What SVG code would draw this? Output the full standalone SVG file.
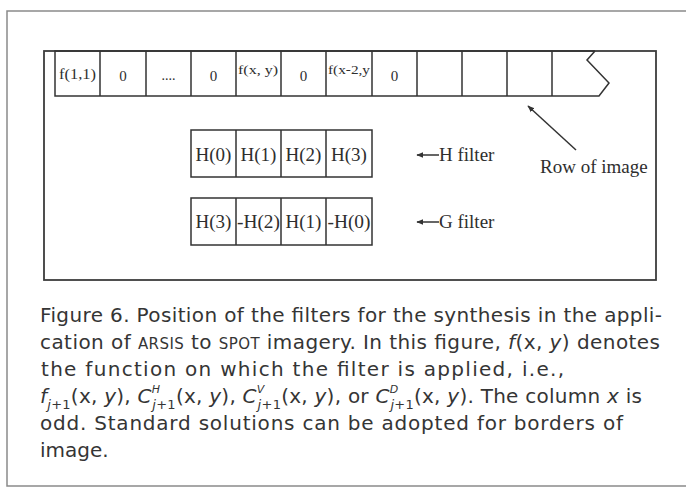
<svg xmlns="http://www.w3.org/2000/svg" width="686" height="488" viewBox="0 0 686 488">
  <style>
    .frame { fill: none; stroke: #8a8a8a; stroke-width: 1.5; }
    .box { fill: none; stroke: #3c3c3c; stroke-width: 1.8; }
    .cell { fill: none; stroke: #333; stroke-width: 1.5; }
    .serif { font-family: "Liberation Serif", "Times New Roman", serif; fill: #2e2e2e; }
    .zero { font-size: 15px; }
    .big { font-size: 19px; }
    .cap { font-family: "DejaVu Sans", "Liberation Sans", sans-serif; font-size: 20px; fill: #353535; }
    .sc { font-size: 15px; }
    .it { font-style: italic; }
    .conn { fill: none; stroke: #333; stroke-width: 1.5; }
  </style>
  <defs>
    <marker id="head" viewBox="0 0 10 10" refX="9" refY="5" markerWidth="7" markerHeight="7" orient="auto-start-reverse" markerUnits="userSpaceOnUse">
      <path d="M0,1 L10,5 L0,9 Z" fill="#333"/>
    </marker>
  </defs>
  <rect width="686" height="488" fill="#fff"/>

  <!-- page frame around figure and caption -->
  <path class="frame" d="M686,11 H7 V486 H686"/>

  <!-- figure border -->
  <rect id="figure-box" class="box" x="44" y="51" width="612" height="229"/>

  <!-- image row, open at its right end -->
  <g id="image-row">
    <path class="cell" d="M595,51 H55 V96 H599 L609,83 L587,60 L595,51"/>
    <path class="cell" d="M100,51 V96 M146,51 V96 M191,51 V96 M236,51 V96 M281,51 V96 M326,51 V96 M372,51 V96 M417,51 V96 M462,51 V96 M507,51 V96 M552,51 V96"/>
    <text class="serif" font-size="15" x="59" y="79" textLength="37" lengthAdjust="spacingAndGlyphs">f(1,1)</text>
    <text class="serif zero" x="123" y="81" text-anchor="middle">0</text>
    <text class="serif" font-size="14" x="168.5" y="80" text-anchor="middle" fill="#9a9a9a">....</text>
    <text class="serif zero" x="213.5" y="81" text-anchor="middle">0</text>
    <text class="serif" font-size="13" x="238" y="74" textLength="40" lengthAdjust="spacingAndGlyphs">f(x, y)</text>
    <text class="serif zero" x="303.5" y="81" text-anchor="middle">0</text>
    <text class="serif" font-size="13" x="328" y="74" textLength="42" lengthAdjust="spacingAndGlyphs">f(x-2,y</text>
    <text class="serif zero" x="394.5" y="81" text-anchor="middle">0</text>
  </g>

  <!-- synthesis filter H -->
  <g id="h-filter">
    <rect class="cell" x="191" y="130" width="181" height="47"/>
    <path class="cell" d="M236,130 V177 M281,130 V177 M326,130 V177"/>
    <text class="serif big" x="213.5" y="161" text-anchor="middle">H(0)</text>
    <text class="serif big" x="258.5" y="161" text-anchor="middle">H(1)</text>
    <text class="serif big" x="303.5" y="161" text-anchor="middle">H(2)</text>
    <text class="serif big" x="349" y="161" text-anchor="middle">H(3)</text>
  </g>

  <!-- synthesis filter G -->
  <g id="g-filter">
    <rect class="cell" x="191" y="198" width="181" height="47"/>
    <path class="cell" d="M236,198 V245 M281,198 V245 M326,198 V245"/>
    <text class="serif big" x="213.5" y="228" text-anchor="middle">H(3)</text>
    <text class="serif big" x="258.5" y="228" text-anchor="middle" textLength="43" lengthAdjust="spacingAndGlyphs">-H(2)</text>
    <text class="serif big" x="303.5" y="228" text-anchor="middle">H(1)</text>
    <text class="serif big" x="349" y="228" text-anchor="middle" textLength="43" lengthAdjust="spacingAndGlyphs">-H(0)</text>
  </g>

  <!-- labels -->
  <g id="h-label"><text class="serif big" x="439" y="161">H filter</text></g>
  <g id="g-label"><text class="serif big" x="439" y="228">G filter</text></g>
  <g id="row-label"><text class="serif big" x="540" y="173">Row of image</text></g>

  <!-- connectors -->
  <g id="connectors">
    <line class="conn" x1="439" y1="155" x2="417" y2="155" marker-end="url(#head)"/>
    <line class="conn" x1="439" y1="222" x2="417" y2="222" marker-end="url(#head)"/>
    <line class="conn" x1="576" y1="150" x2="528" y2="106" marker-end="url(#head)"/>
  </g>

  <!-- caption -->
  <g id="caption" class="cap">
    <text x="40" y="322" textLength="622" lengthAdjust="spacing">Figure 6.  Position of the filters for the synthesis in the appli-</text>
    <text x="40" y="349" textLength="620" lengthAdjust="spacing">cation of <tspan class="sc">ARSIS</tspan> to <tspan class="sc">SPOT</tspan> imagery. In this figure, <tspan class="it">f</tspan>(x, <tspan class="it">y</tspan>) denotes</text>
    <text x="41" y="376" textLength="523" lengthAdjust="spacing">the function on which the filter is applied, i.e.,</text>
    <text x="40" y="403" letter-spacing="0.25"><tspan class="it">f</tspan><tspan class="it" font-size="13" dy="6">j</tspan><tspan font-size="13">+1</tspan><tspan dy="-6">(x, <tspan class="it">y</tspan>), </tspan><tspan class="it">C</tspan><tspan class="it" font-size="11" dy="-10">H</tspan><tspan class="it" font-size="13" dx="-8" dy="16">j</tspan><tspan font-size="13">+1</tspan><tspan dy="-6">(x, <tspan class="it">y</tspan>), </tspan><tspan class="it">C</tspan><tspan class="it" font-size="11" dy="-10">V</tspan><tspan class="it" font-size="13" dx="-7" dy="16">j</tspan><tspan font-size="13">+1</tspan><tspan dy="-6">(x, <tspan class="it">y</tspan>), or </tspan><tspan class="it">C</tspan><tspan class="it" font-size="11" dy="-10">D</tspan><tspan class="it" font-size="13" dx="-8" dy="16">j</tspan><tspan font-size="13">+1</tspan><tspan dy="-6">(x, <tspan class="it">y</tspan>). The column <tspan class="it">x</tspan> is</tspan></text>
    <text x="40" y="430" textLength="583" lengthAdjust="spacing">odd. Standard solutions can be adopted for borders of</text>
    <text x="40" y="457">image.</text>
  </g>
</svg>
